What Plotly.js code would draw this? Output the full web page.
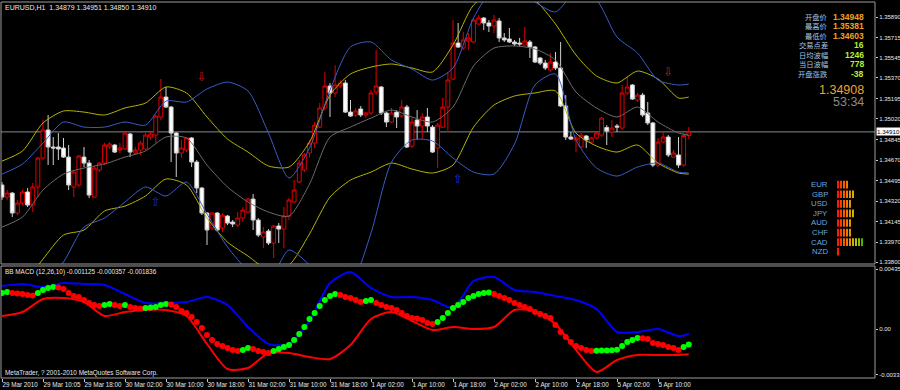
<!DOCTYPE html>
<html><head><meta charset="utf-8">
<script src="https://cdn.plot.ly/plotly-3.0.1.min.js"></script>
<style>html,body{margin:0;padding:0;background:#000;}#chart{width:900px;height:390px;}</style>
</head><body><div id="chart"></div>
<script>
// ---------- DATA ----------
const symbolName = 'EURUSD,H1';
const tickIdx = [0,8,16,24,32,40,48,56,64,72,80,88,96,104,112,120,128];
const tickText = ['29 Mar 2010','29 Mar 10:05','29 Mar 18:00','30 Mar 02:00','30 Mar 10:00','30 Mar 18:00','31 Mar 02:00','31 Mar 10:00','31 Mar 18:00','1 Apr 02:00','1 Apr 10:00','1 Apr 18:00','2 Apr 02:00','2 Apr 10:00','2 Apr 18:00','5 Apr 02:00','5 Apr 10:00'];

const open = [
1.34457,1.34354,1.34388,1.34218,1.34303,1.34397,1.34286,1.34440,1.34687,1.34926,
1.34781,1.34781,1.34772,1.34695,1.34440,1.34457,1.34695,1.34644,1.34354,1.34585,
1.34644,1.34781,1.34798,1.34755,1.34764,1.34892,1.34730,1.34755,1.34764,1.34866,
1.34883,1.35037,1.35207,1.35122,1.34900,1.34730,1.34755,1.34858,1.34653,1.34431,
1.34218,1.34090,1.34218,1.34090,1.34192,1.34141,1.34115,1.34175,1.34226,1.34337,
1.34158,1.34013,1.34064,1.33962,1.34107,1.34081,1.34192,1.34312,1.34482,1.34585,
1.34730,1.34815,1.34951,1.35114,1.35301,1.35242,1.35301,1.35327,1.35079,1.35054,
1.35105,1.35054,1.35071,1.35250,1.35293,1.35071,1.34994,1.35079,1.35045,1.35122,
1.34789,1.35011,1.34960,1.35037,1.34951,1.34772,1.34951,1.35122,1.35361,1.35668,
1.35625,1.35685,1.35677,1.35830,1.35881,1.35839,1.35813,1.35856,1.35711,1.35702,
1.35677,1.35668,1.35651,1.35677,1.35634,1.35540,1.35497,1.35438,1.35506,1.35455,
1.35131,1.34866,1.34841,1.34781,1.34875,1.34823,1.34858,1.34883,1.34948,1.34909,
1.34960,1.34943,1.35242,1.35310,1.35182,1.35224,1.35071,1.34986,1.34627,1.34823,
1.34866,1.34695,1.34713,1.34627,1.34879];
const high = [
1.34482,1.34414,1.34397,1.34329,1.34414,1.34431,1.34474,1.34695,1.35011,1.35054,
1.34866,1.34900,1.34858,1.34798,1.34585,1.34713,1.34781,1.34670,1.34619,1.34653,
1.34815,1.34823,1.34806,1.34815,1.34909,1.34900,1.34781,1.34832,1.34900,1.34909,
1.35054,1.35361,1.35293,1.35131,1.34909,1.34841,1.34866,1.34866,1.34670,1.34440,
1.34226,1.34226,1.34226,1.34218,1.34201,1.34158,1.34226,1.34269,1.34346,1.34380,
1.34175,1.34098,1.34081,1.34115,1.34132,1.34269,1.34346,1.34499,1.34670,1.34730,
1.34841,1.34994,1.35156,1.35421,1.35327,1.35480,1.35352,1.35352,1.35182,1.35114,
1.35131,1.35079,1.35267,1.35608,1.35301,1.35079,1.35114,1.35096,1.35182,1.35139,
1.35037,1.35096,1.35071,1.35114,1.34968,1.34986,1.35199,1.35421,1.35864,1.35839,
1.35762,1.35753,1.35881,1.35907,1.35890,1.35864,1.35907,1.35881,1.35753,1.35796,
1.35694,1.35711,1.35805,1.35694,1.35643,1.35549,1.35523,1.35583,1.35591,1.35677,
1.35224,1.34909,1.34883,1.34900,1.34883,1.34866,1.34909,1.35037,1.34968,1.35011,
1.34977,1.35310,1.35381,1.35318,1.35242,1.35242,1.35165,1.34994,1.34858,1.34909,
1.34883,1.34755,1.34866,1.34900,1.34951];
const low = [
1.34329,1.34329,1.34184,1.34201,1.34286,1.34269,1.34226,1.34354,1.34670,1.34627,
1.34627,1.34670,1.34687,1.34414,1.34354,1.34440,1.34610,1.34346,1.34346,1.34567,
1.34627,1.34764,1.34730,1.34730,1.34755,1.34695,1.34713,1.34713,1.34755,1.34841,
1.34815,1.35011,1.35114,1.34653,1.34525,1.34687,1.34738,1.34610,1.34388,1.34201,
1.33945,1.34073,1.34056,1.34056,1.34115,1.34098,1.34098,1.34141,1.34218,1.34073,
1.34013,1.33919,1.33945,1.33834,1.33962,1.33919,1.34158,1.34303,1.34474,1.34567,
1.34695,1.34772,1.34943,1.35096,1.35037,1.35207,1.35284,1.35071,1.35037,1.35037,
1.35037,1.35028,1.35054,1.35224,1.35054,1.34951,1.34986,1.34943,1.35028,1.34772,
1.34772,1.34841,1.34841,1.34909,1.34730,1.34602,1.34943,1.34909,1.35352,1.35625,
1.35608,1.35608,1.35668,1.35822,1.35779,1.35762,1.35753,1.35677,1.35677,1.35668,
1.35643,1.35643,1.35643,1.35540,1.35497,1.35480,1.35438,1.35421,1.35438,1.35122,
1.34841,1.34841,1.34738,1.34772,1.34772,1.34815,1.34849,1.34866,1.34798,1.34866,
1.34909,1.34926,1.35224,1.35182,1.35165,1.35037,1.34968,1.34610,1.34610,1.34815,
1.34695,1.34687,1.34603,1.34610,1.34850];
const close = [
1.34354,1.34388,1.34218,1.34303,1.34397,1.34286,1.34440,1.34687,1.34926,1.34781,
1.34772,1.34764,1.34695,1.34457,1.34567,1.34704,1.34644,1.34371,1.34602,1.34644,
1.34798,1.34806,1.34738,1.34772,1.34900,1.34738,1.34755,1.34815,1.34883,1.34892,
1.35045,1.35207,1.35122,1.34900,1.34730,1.34772,1.34858,1.34653,1.34431,1.34218,
1.34073,1.34218,1.34073,1.34201,1.34132,1.34124,1.34175,1.34243,1.34337,1.34158,
1.34030,1.34056,1.33962,1.34107,1.34081,1.34192,1.34329,1.34414,1.34644,1.34713,
1.34815,1.34968,1.35114,1.35301,1.35242,1.35310,1.35327,1.35079,1.35045,1.35088,
1.35054,1.35071,1.35242,1.35301,1.35071,1.34994,1.35071,1.35037,1.35122,1.34781,
1.34994,1.34960,1.35037,1.34960,1.34738,1.34968,1.35122,1.35352,1.35668,1.35634,
1.35694,1.35711,1.35864,1.35881,1.35839,1.35813,1.35864,1.35711,1.35694,1.35677,
1.35660,1.35660,1.35685,1.35634,1.35506,1.35497,1.35455,1.35506,1.35455,1.35131,
1.34866,1.34849,1.34858,1.34883,1.34841,1.34858,1.34900,1.35028,1.34917,1.34943,
1.34951,1.35242,1.35293,1.35190,1.35224,1.35054,1.34986,1.34627,1.34823,1.34866,
1.34713,1.34730,1.34627,1.34879,1.34910];

// bands sampled every 4 bars
const bandIdx = [0,4,8,12,16,20,24,28,32,36,40,44,48,52,56,60,64,68,72,76,80,84,88,92,96,100,104,108,112,116,120,124,128,132,134];
const yellowUpper = [1.34661,1.34747,1.34986,1.35088,1.35079,1.35054,1.35114,1.35156,1.35293,1.35242,1.35037,1.34849,1.34738,1.34619,1.34610,1.34823,1.35224,1.35404,1.35463,1.35489,1.35455,1.35421,1.35651,1.35992,1.36103,1.36120,1.36035,1.35830,1.35566,1.35387,1.35327,1.35429,1.35361,1.35199,1.35207];
const yellowLower = [1.33475,1.33603,1.33825,1.34030,1.34073,1.34235,1.34277,1.34363,1.34508,1.34457,1.34175,1.33970,1.33851,1.33731,1.33774,1.34039,1.34354,1.34499,1.34567,1.34644,1.34593,1.34559,1.34627,1.34951,1.35139,1.35216,1.35242,1.35259,1.34900,1.34789,1.34738,1.34798,1.34644,1.34559,1.34550];
const blueUpper = [1.34550,1.34636,1.34815,1.34994,1.34951,1.34951,1.34994,1.34968,1.35173,1.35165,1.35276,1.35335,1.35259,1.34900,1.34516,1.34772,1.35267,1.35634,1.35677,1.35523,1.35446,1.35352,1.35455,1.35881,1.36137,1.36137,1.36018,1.35933,1.36103,1.36035,1.35719,1.35583,1.35352,1.35310,1.35318];
const blueLower = [1.33305,1.33433,1.33603,1.33800,1.34098,1.34175,1.34312,1.34440,1.34363,1.34482,1.34209,1.33928,1.33731,1.33646,1.33902,1.33774,1.33561,1.33603,1.34047,1.34653,1.34841,1.34832,1.34687,1.34567,1.34550,1.34806,1.35310,1.35404,1.34841,1.34602,1.34533,1.34610,1.34644,1.34567,1.34559];
const middleBand = [1.34098,1.34184,1.34414,1.34550,1.34602,1.34636,1.34695,1.34747,1.34866,1.34858,1.34627,1.34440,1.34312,1.34226,1.34192,1.34465,1.34866,1.34951,1.35028,1.35096,1.35037,1.34994,1.35122,1.35472,1.35625,1.35643,1.35617,1.35523,1.35250,1.35114,1.35037,1.35122,1.34994,1.34900,1.34883];

// signal arrows
const downArrowIdx = [39,130];
const downArrowPrice = [1.35370,1.35412];
const upArrowIdx = [30,89];
const upArrowPrice = [1.34303,1.34499];

// BB MACD pane
const macdUpper = [0.003118,0.003263,0.003045,0.003335,0.003263,0.00319,0.002538,0.001885,0.001885,0.001958,0.00232,0.00174,0.000145,-0.001088,-0.001088,0.00058,0.003335,0.004133,0.002973,0.00232,0.00232,0.002103,0.001523,0.00348,0.00377,0.002828,0.002683,0.002393,0.002103,0.00145,-0.000218,-0.000218,0,-0.000508,-0.000357];
const macdLower = [0.000943,0.001233,0.002175,0.002248,0.001958,0.000943,0.001233,0.001378,0.001378,0.000943,-0.001088,-0.0029,-0.002828,-0.00174,-0.00174,-0.00203,-0.002175,-0.00116,0.000725,0.001233,0.00058,-0.000073,0.000145,0,0.000145,0.001378,0.001305,0.000363,-0.001523,-0.003118,-0.002248,-0.001885,-0.001885,-0.001885,-0.001836];
const macdValue = [
0.00261,0.002683,0.00261,0.002574,0.002538,0.002465,0.002429,0.00261,0.002828,0.002973,
0.003045,0.003009,0.0029,0.00261,0.002393,0.00232,0.002103,0.001885,0.00174,0.001668,
0.00174,0.001813,0.00174,0.001668,0.00174,0.001595,0.001523,0.001486,0.001523,0.001559,
0.001595,0.00174,0.001813,0.001776,0.001595,0.001305,0.00116,0.00087,0.000508,0.000073,
-0.000435,-0.000798,-0.001088,-0.001233,-0.001378,-0.001523,-0.001595,-0.001523,-0.001378,-0.00145,
-0.001595,-0.001668,-0.00174,-0.001595,-0.00145,-0.001305,-0.00116,-0.000798,-0.000363,0.000145,
0.000725,0.00116,0.001668,0.002103,0.002393,0.002538,0.002465,0.00232,0.002248,0.002103,
0.001958,0.00203,0.002103,0.001885,0.00174,0.001595,0.001523,0.001378,0.00116,0.000943,
0.000798,0.000761,0.000653,0.000435,0.000363,0.000508,0.000798,0.00116,0.001523,0.00174,
0.001958,0.002248,0.002393,0.002538,0.00261,0.002646,0.002538,0.002393,0.002248,0.002103,
0.001885,0.00174,0.001595,0.00145,0.001233,0.001088,0.000943,0.000798,0.00029,-0.000218,
-0.00058,-0.000943,-0.001233,-0.001378,-0.001523,-0.001595,-0.001581,-0.001566,-0.001552,-0.001537,
-0.001508,-0.001233,-0.000943,-0.000798,-0.000653,-0.000674,-0.000725,-0.001015,-0.001088,-0.00116,
-0.001305,-0.001378,-0.001523,-0.001305,-0.001125];

// price axis ticks
const priceTicks = [1.35890,1.35715,1.35545,1.35370,1.35195,1.35020,1.34845,1.34670,1.34495,1.34320,1.34145,1.33970,1.33800];
const macdTicks = [0.00435,0,-0.00331];
const macdTickText = ['0.00435','0.00','-0.00331'];

// info panel
const infoLabels = ['开盘价','最高价','最低价','交易点差','日均波幅','当日波幅','开盘涨跌'];
const infoValues = ['1.34948','1.35381','1.34603','16','1246','778','-38'];
const bidText = '1.34908';
const timerText = '53:34';

// currency strength
const currencies = ['EUR','GBP','USD','JPY','AUD','CHF','CAD','NZD'];
const strength = [4,6,5,6,5,5,9,1];
const strengthPalette = ['#ff1a00','#ff3c00','#ff5a00','#f07800','#e09400','#d0ae00','#b8c000','#88c000','#50b000'];

// ---------- BUILD ----------
const N = open.length;
const idx = open.map((_, i) => i);
const FONT = '"Liberation Sans", Arial, sans-serif';
const CJK = '"Noto Sans CJK SC", "Noto Sans", sans-serif';
const PLOT_L = 1, PLOT_W = 874, PLOT_T = 2, PLOT_H = 376;
const PX = p => (p - PLOT_L) / PLOT_W;
const PY = p => 1 - (p - PLOT_T) / PLOT_H;

const traces = [];
traces.push({
  type: 'candlestick', x: idx, open, high, low, close, xaxis: 'x', yaxis: 'y',
  increasing: { line: { color: '#e00000', width: 1 }, fillcolor: '#000000' },
  decreasing: { line: { color: '#d0d0d0', width: 1 }, fillcolor: '#ffffff' },
  whiskerwidth: 0, hoverinfo: 'skip', showlegend: false
});
function band(vals, color) {
  return { type: 'scatter', mode: 'lines', x: bandIdx, y: vals, xaxis: 'x', yaxis: 'y',
    line: { color, width: 1, shape: 'spline', smoothing: 0.7 }, hoverinfo: 'skip' };
}
traces.push(band(middleBand, '#6c6c6c'));
traces.push(band(yellowUpper, '#b8b400'));
traces.push(band(yellowLower, '#b8b400'));
traces.push(band(blueUpper, '#3a5cc8'));
traces.push(band(blueLower, '#3a5cc8'));
traces.push({ type: 'scatter', mode: 'text', x: downArrowIdx, y: downArrowPrice, text: downArrowIdx.map(() => '⇩'),
  textfont: { family: 'DejaVu Sans', size: 12, color: '#d01010' }, xaxis: 'x', yaxis: 'y', hoverinfo: 'skip' });
traces.push({ type: 'scatter', mode: 'text', x: upArrowIdx, y: upArrowPrice, text: upArrowIdx.map(() => '⇧'),
  textfont: { family: 'DejaVu Sans', size: 12, color: '#1830d0' }, xaxis: 'x', yaxis: 'y', hoverinfo: 'skip' });

// MACD pane
traces.push({ type: 'scatter', mode: 'lines', x: bandIdx, y: macdUpper, xaxis: 'x', yaxis: 'y2',
  line: { color: '#0000ff', width: 2, shape: 'spline', smoothing: 0.7 }, hoverinfo: 'skip' });
traces.push({ type: 'scatter', mode: 'lines', x: bandIdx, y: macdLower, xaxis: 'x', yaxis: 'y2',
  line: { color: '#ff0000', width: 2, shape: 'spline', smoothing: 0.7 }, hoverinfo: 'skip' });
const dotColors = macdValue.map((v, i) => (i === 0 || v > macdValue[i - 1]) ? '#00ff00' : '#ff0000');
traces.push({ type: 'scatter', mode: 'markers', x: idx, y: macdValue, xaxis: 'x', yaxis: 'y2',
  marker: { color: dotColors, size: 6, line: { width: 0 } }, hoverinfo: 'skip' });

// currency strength bars (overlay axes in page pixels)
const sx = [], sy = [], sc = [];
currencies.forEach((c, r) => {
  for (let k = 0; k < strength[r]; k++) {
    sx.push(838 + k * 3); sy.push(184.7 + r * 9.57); sc.push(strengthPalette[k]);
  }
});
traces.push({ type: 'scatter', mode: 'markers', x: sx, y: sy, xaxis: 'x2', yaxis: 'y3',
  marker: { symbol: 'line-ns', size: 5.5, line: { width: 2, color: sc } }, hoverinfo: 'skip' });

const annotations = [];
function note(text, px, py, opts) {
  annotations.push(Object.assign({ text, xref: 'paper', yref: 'paper', x: PX(px), y: PY(py), borderpad: 0,
    showarrow: false, xanchor: 'left', yanchor: 'middle', font: { family: FONT, size: 7, color: '#e8e8e8' } }, opts || {}));
}
const f5 = v => v.toFixed(5);
note(`${symbolName}  ${f5(open[N-1])} ${f5(high[N-1])} ${f5(low[N-1])} ${f5(close[N-1])}`, 4, 7);
note(`BB MACD (12,26,10) ${macdValue[N-1].toFixed(6)} ${macdUpper[macdUpper.length-1].toFixed(6)} ${macdLower[macdLower.length-1].toFixed(6)}`, 4, 271.5, { font: { family: FONT, size: 6.4, color: '#e8e8e8' } });
note('MetaTrader, ? 2001-2010 MetaQuotes Software Corp.', 4, 373, { font: { family: FONT, size: 6.4, color: '#e8e8e8' } });
infoLabels.forEach((t, r) => {
  const y = 16.7 + r * 9.55;
  note(t, 829, y, { xanchor: 'right', font: { family: CJK, size: 7.3, color: '#a4c4e4' } });
  note('<b>' + infoValues[r] + '</b>', 865, y, { xanchor: 'right',
    font: { family: FONT, size: 8.5, color: r < 3 ? '#f0a020' : '#b4f030' } });
});
note(bidText, 865, 89.5, { xanchor: 'right', font: { family: FONT, size: 12.5, color: '#f0a030' } });
note(timerText, 865, 102, { xanchor: 'right', font: { family: FONT, size: 12.5, color: '#8a8a8a' } });
currencies.forEach((c, r) => {
  note(c, 829, 184.7 + r * 9.57, { xanchor: 'right', font: { family: FONT, size: 7.8, color: '#6ea8dc' } });
});
annotations.push({ text: close[N-1].toFixed(5), xref: 'paper', yref: 'y', x: 1, y: close[N-1], xanchor: 'left', yanchor: 'middle',
  showarrow: false, bgcolor: '#ffffff', borderpad: 0, xshift: 1, font: { family: FONT, size: 6.2, color: '#000000' } });

const layout = {
  width: 900, height: 390, paper_bgcolor: '#000000', plot_bgcolor: 'rgba(0,0,0,0)',
  margin: { l: PLOT_L, r: 900 - PLOT_L - PLOT_W, t: PLOT_T, b: 390 - PLOT_T - PLOT_H },
  showlegend: false, font: { family: FONT, size: 7, color: '#e8e8e8' },
  boxgap: 0.25, boxgroupgap: 0,
  xaxis: { domain: [0, 1], range: [-0.195, 170.34], anchor: 'y2', showgrid: false, zeroline: false,
    tickmode: 'array', tickvals: tickIdx, ticktext: tickText, ticks: 'outside', ticklen: 3, tickcolor: '#c8c8c8',
    tickangle: 0, ticklabelposition: 'outside right', tickfont: { family: FONT, size: 6.3, color: '#e8e8e8' },
    rangeslider: { visible: false }, fixedrange: true, showline: false },
  yaxis: { domain: [PY(264), 1], range: [1.33783, 1.36018], side: 'right', anchor: 'x', showgrid: false, zeroline: false,
    tickmode: 'array', tickvals: priceTicks, ticktext: priceTicks.map(f5), ticks: 'outside', ticklen: 2, tickcolor: '#c8c8c8',
    tickfont: { family: FONT, size: 6, color: '#e8e8e8' }, fixedrange: true },
  yaxis2: { domain: [0, PY(266)], range: [-0.003553, 0.004568], side: 'right', anchor: 'x', showgrid: false, zeroline: false,
    tickmode: 'array', tickvals: macdTicks, ticktext: macdTickText, ticks: 'outside', ticklen: 2, tickcolor: '#c8c8c8',
    tickfont: { family: FONT, size: 6, color: '#e8e8e8' }, fixedrange: true },
  xaxis2: { domain: [0, 1], range: [PLOT_L, PLOT_L + PLOT_W], anchor: 'y3', visible: false, fixedrange: true },
  yaxis3: { domain: [0, 1], range: [PLOT_T + PLOT_H, PLOT_T], anchor: 'x2', visible: false, fixedrange: true },
  shapes: [
    { type: 'line', xref: 'paper', yref: 'y', x0: 0, x1: 1, y0: close[N-1], y1: close[N-1], layer: 'below', line: { color: '#7d8a98', width: 1 } },
    { type: 'rect', xref: 'paper', yref: 'y domain', x0: 0, x1: 1, y0: 0, y1: 1, line: { color: '#9c9c9c', width: 1 } },
    { type: 'rect', xref: 'paper', yref: 'y2 domain', x0: 0, x1: 1, y0: 0, y1: 1, line: { color: '#9c9c9c', width: 1 } }
  ],
  annotations
};
Plotly.newPlot('chart', traces, layout, { staticPlot: true, displayModeBar: false });
</script></body></html>
